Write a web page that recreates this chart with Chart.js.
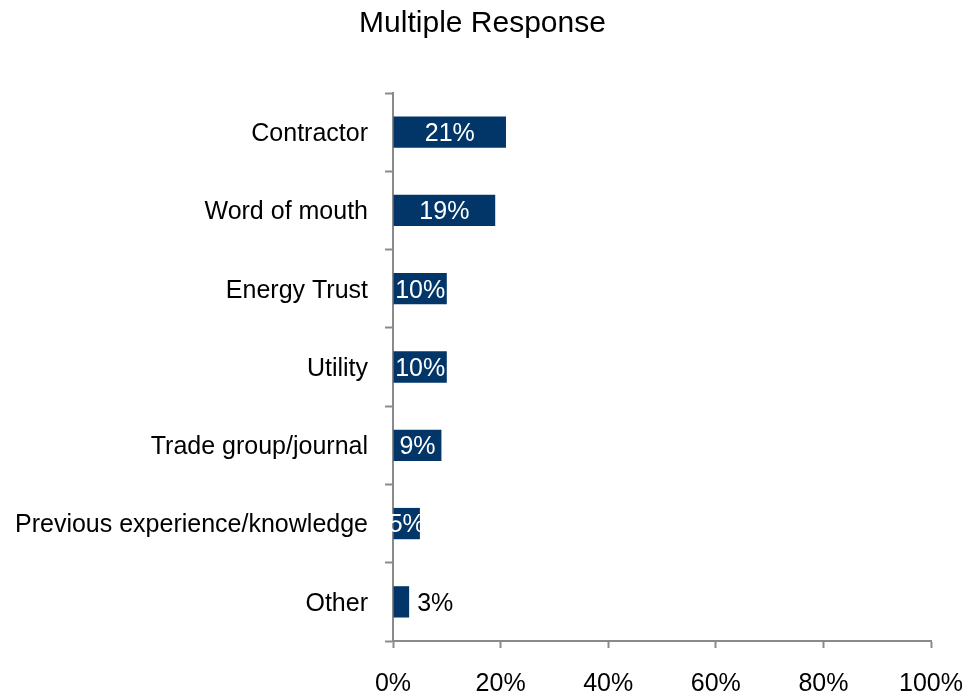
<!DOCTYPE html>
<html>
<head>
<meta charset="utf-8">
<script src="https://cdn.jsdelivr.net/npm/chart.js@4.4.1/dist/chart.umd.min.js"></script>
<style>
  html, body { margin: 0; padding: 0; background: #ffffff; }
  #wrap { width: 965px; height: 692px; }
</style>
</head>
<body>
<div id="wrap"><canvas id="chart" width="965" height="692"></canvas></div>
<script>
// Sources of information (multiple response), share of respondents in percent
const categories = [
  'Contractor',
  'Word of mouth',
  'Energy Trust',
  'Utility',
  'Trade group/journal',
  'Previous experience/knowledge',
  'Other'
];
const shares = [21, 19, 10, 10, 9, 5, 3];
const xTickValues = [0, 20, 40, 60, 80, 100];

const FONT = '"Liberation Sans", Arial, sans-serif';
const BAR_COLOR = '#023668';
const AXIS_COLOR = '#8a8a8a';

// Writes each percentage inside its bar, or just past the end when the bar is too short
const valueLabels = {
  id: 'valueLabels',
  afterDatasetsDraw(chart) {
    const ctx = chart.ctx;
    const meta = chart.getDatasetMeta(0);
    ctx.save();
    ctx.font = '25px ' + FONT;
    ctx.textBaseline = 'middle';
    meta.data.forEach((bar, i) => {
      const text = shares[i] + '%';
      const barLen = bar.x - bar.base;
      if (barLen >= 20) {
        ctx.fillStyle = '#ffffff';
        ctx.textAlign = 'center';
        ctx.fillText(text, (bar.x + bar.base) / 2, bar.y + 2);
      } else {
        ctx.fillStyle = '#000000';
        ctx.textAlign = 'left';
        ctx.fillText(text, bar.x + 8, bar.y + 2);
      }
    });
    ctx.restore();
  }
};

new Chart(document.getElementById('chart'), {
  type: 'bar',
  data: {
    labels: categories,
    datasets: [{
      data: shares,
      backgroundColor: BAR_COLOR,
      borderWidth: 0,
      categoryPercentage: 0.4,
      barPercentage: 1.0
    }]
  },
  options: {
    indexAxis: 'y',
    responsive: false,
    animation: false,
    devicePixelRatio: 1,
    layout: { padding: 0 },
    plugins: {
      legend: { display: false },
      tooltip: { enabled: false },
      title: {
        display: true,
        text: 'Multiple Response',
        color: '#000000',
        font: { family: FONT, size: 30, weight: 'normal', lineHeight: 1.2 },
        padding: { top: 6, bottom: 51 }
      }
    },
    scales: {
      x: {
        type: 'linear',
        min: 0,
        max: 100,
        afterBuildTicks(scale) {
          scale.ticks = xTickValues.map(v => ({ value: v }));
        },
        afterFit(scale) {
          scale.height = 51;
          scale.paddingRight = 34;
        },
        border: { display: true, color: AXIS_COLOR, width: 2 },
        grid: {
          drawOnChartArea: false,
          drawTicks: true,
          tickLength: 7,
          tickColor: AXIS_COLOR,
          tickWidth: 2
        },
        ticks: {
          color: '#000000',
          padding: 21,
          font: { family: FONT, size: 25 },
          maxRotation: 0,
          callback: v => v + '%'
        }
      },
      y: {
        type: 'category',
        afterFit(scale) { scale.width = 393; },
        border: { display: true, color: AXIS_COLOR, width: 2 },
        grid: {
          offset: true,
          drawOnChartArea: false,
          drawTicks: true,
          tickLength: 8,
          tickColor: AXIS_COLOR,
          tickWidth: 2
        },
        ticks: {
          color: '#000000',
          padding: 17,
          labelOffset: 2,
          font: { family: FONT, size: 25 }
        }
      }
    }
  },
  plugins: [valueLabels]
});
</script>
</body>
</html>
